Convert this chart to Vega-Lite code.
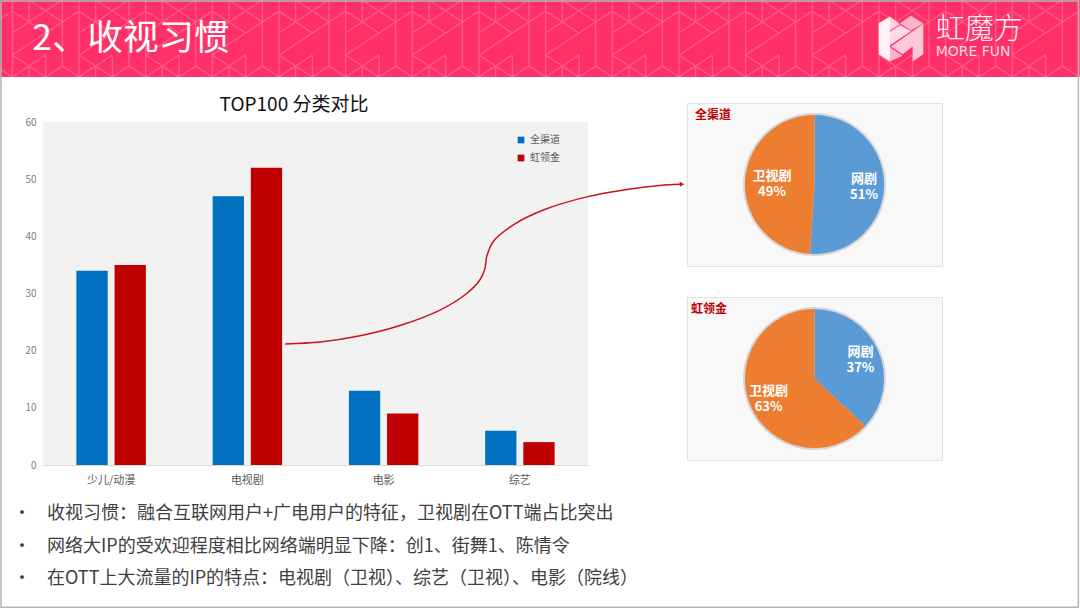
{
  "$schema": "https://vega.github.io/schema/vega-lite/v6.json",
  "padding": 0,
  "background": "white",
  "spacing": 26,
  "bounds": "flush",
  "resolve": {"scale": {"color": "independent", "shape": "independent"}},
  "vconcat": [
    {
      "width": 1080,
      "height": 77,
      "view": {"fill": "#ff3067", "stroke": null},
      "encoding": {
        "x": {"field": "p", "type": "quantitative", "axis": null, "scale": {"domain": [-0.185, 16.015]}}
      },
      "layer": [
        {
          "data": {"values": [{"p": -1}, {"p": 0}, {"p": 1}, {"p": 2}, {"p": 3}, {"p": 4}, {"p": 5}, {"p": 6}, {"p": 7}, {"p": 8}, {"p": 9}, {"p": 10}, {"p": 11}, {"p": 12}, {"p": 13}, {"p": 14}, {"p": 15}, {"p": 16}]},
          "mark": {
            "type": "point",
            "clip": true,
            "filled": false,
            "opacity": 1,
            "size": 4,
            "stroke": "#ff5c8a",
            "strokeWidth": 1.3,
            "shape": "M0 -38.5V38.5M50 -38.5V27.5M16.67 -38.5V-16.5M16.67 27.5V38.5M33.33 16.5V38.5M0 -27.5L33.33 -5.5M0 -5.5L50 -38.5M16.67 -38.5L50 -16.5M0 16.5L66.67 -27.5M0 16.5L33.33 38.5M0 38.5L33.33 16.5M33.33 38.5L50 27.5L66.67 38.5"
          }
        },
        {
          "data": {"values": [{"p": 13.33, "part": "a"}, {"p": 13.33, "part": "b"}, {"p": 13.33, "part": "c"}, {"p": 13.33, "part": "d"}, {"p": 13.33, "part": "e"}, {"p": 13.33, "part": "f"}]},
          "mark": {"type": "point", "filled": true, "opacity": 1, "size": 4},
          "encoding": {
            "shape": {
              "field": "part",
              "type": "nominal",
              "legend": null,
              "scale": {
                "domain": ["a", "b", "c", "d", "e", "f"],
                "range": [
                  "M-22.3 -15.3L-11 -22V23L-22.3 15.7Z",
                  "M-11 -22L-1 -14.3L-11 -7.7Z",
                  "M-1 -15.3L10 -22.7L22.3 -15.3L10 -7.7Z",
                  "M-11 -6.7L-1 -13.3L10 -7.3L-11 6.7Z",
                  "M22.3 -14.7V15.7L11.7 23V8L1.7 15.7L-10 8L10 -6Z",
                  "M-11 9L1.7 17.3L-11 23Z"
                ]
              }
            },
            "color": {
              "field": "part",
              "type": "nominal",
              "legend": null,
              "scale": {
                "domain": ["a", "b", "c", "d", "e", "f"],
                "range": ["#fff2f6", "#ffd3e0", "#ffb3ca", "#ffdbe6", "#ffc8d9", "#ffb3ca"]
              }
            }
          }
        },
        {
          "data": {"values": [{"p": 0.3, "label": "2、收视习惯"}]},
          "mark": {"type": "text", "align": "left", "color": "white", "fontSize": 35.5, "font": "Noto Sans CJK SC", "fontWeight": 400},
          "encoding": {
            "text": {"field": "label", "type": "nominal"}
          }
        },
        {
          "data": {"values": [{"p": 13.85, "label": "虹魔方"}]},
          "mark": {"type": "text", "align": "left", "dy": -9, "color": "#fff0f5", "fontSize": 29, "font": "Noto Sans CJK SC", "fontWeight": 300},
          "encoding": {
            "text": {"field": "label", "type": "nominal"}
          }
        },
        {
          "data": {"values": [{"p": 13.85, "label": "MORE  FUN"}]},
          "mark": {"type": "text", "align": "left", "dy": 13, "color": "#ffdbe6", "fontSize": 14, "font": "DejaVu Sans"},
          "encoding": {
            "text": {"field": "label", "type": "nominal"}
          }
        },
        {
          "data": {"values": [{"p": -0.17, "p2": 15.99, "v": 0.09, "v2": 55.2}]},
          "mark": {"type": "rect", "fill": null, "stroke": "#b4b4b4", "strokeWidth": 1.5},
          "encoding": {
            "x2": {"field": "p2"},
            "y": {"field": "v", "type": "quantitative", "axis": null, "scale": {"domain": [0, 7], "range": [0, 77]}},
            "y2": {"field": "v2"}
          }
        }
      ]
    },
    {
      "spacing": 99,
      "bounds": "flush",
      "resolve": {"scale": {"color": "independent"}},
      "hconcat": [
        {
          "width": 588,
          "height": 362,
          "view": {"stroke": null},
          "title": {"text": "TOP100 分类对比", "fontSize": 19, "fontWeight": "normal", "font": "Noto Sans CJK SC", "color": "#111111", "baseline": "middle", "offset": -21},
          "resolve": {"scale": {"x": "independent"}},
          "layer": [
            {
              "data": {"values": [{"a": 0, "b": 4, "low": 0, "high": 60}]},
              "mark": {"type": "rect", "fill": "#f2f2f2"},
              "encoding": {
                "x": {"field": "a", "type": "quantitative", "axis": null, "scale": {"domain": [0, 4], "range": [43, 588]}},
                "x2": {"field": "b"},
                "y": {"field": "low", "type": "quantitative", "title": null, "scale": {"domain": [0, 60], "range": [362, 19]}, "axis": {"values": [0, 10, 20, 30, 40, 50, 60], "grid": false, "ticks": false, "domain": false, "offset": -36, "labelPadding": 0, "labelColor": "#808080", "labelFontSize": 10, "labelFont": "Noto Sans CJK SC"}},
                "y2": {"field": "high"}
              }
            },
            {
              "data": {"values": [
                {"category": "少儿/动漫", "group": "全渠道", "count": 34},
                {"category": "少儿/动漫", "group": "虹领金", "count": 35},
                {"category": "电视剧", "group": "全渠道", "count": 47},
                {"category": "电视剧", "group": "虹领金", "count": 52},
                {"category": "电影", "group": "全渠道", "count": 13},
                {"category": "电影", "group": "虹领金", "count": 9},
                {"category": "综艺", "group": "全渠道", "count": 6},
                {"category": "综艺", "group": "虹领金", "count": 4}
              ]},
              "mark": "bar",
              "encoding": {
                "x": {"field": "category", "type": "nominal", "title": null, "sort": ["少儿/动漫", "电视剧", "电影", "综艺"], "scale": {"range": [43, 588], "paddingInner": 0.49, "paddingOuter": 0.245}, "axis": {"labelAngle": 0, "ticks": false, "domainColor": "#d9d9d9", "labelColor": "#595959", "labelFontSize": 11, "labelFont": "Noto Sans CJK SC", "labelPadding": 9, "grid": false}},
                "xOffset": {"field": "group", "type": "nominal", "scale": {"paddingInner": 0.18}},
                "y": {"field": "count", "type": "quantitative"},
                "color": {
                  "field": "group",
                  "type": "nominal",
                  "scale": {"domain": ["全渠道", "虹领金"], "range": ["#0070c0", "#c00000"]},
                  "legend": {"title": null, "orient": "none", "legendX": 516, "legendY": 32, "symbolType": "square", "symbolSize": 45, "labelFontSize": 10, "labelColor": "#595959", "labelFont": "Noto Sans CJK SC", "rowPadding": 8}
                }
              }
            },
            {
              "data": {"values": [
                {"cx": 1.776, "level": 21.16},
                {"cx": 2.033, "level": 21.5},
                {"cx": 2.327, "level": 22.6},
                {"cx": 2.62, "level": 24.4},
                {"cx": 2.914, "level": 27.1},
                {"cx": 3.11, "level": 30.0},
                {"cx": 3.207, "level": 32.4},
                {"cx": 3.244, "level": 34.4},
                {"cx": 3.256, "level": 36.4},
                {"cx": 3.305, "level": 39.1},
                {"cx": 3.452, "level": 42.0},
                {"cx": 3.672, "level": 44.6},
                {"cx": 3.99, "level": 46.9},
                {"cx": 4.284, "level": 48.2},
                {"cx": 4.528, "level": 48.9},
                {"cx": 4.675, "level": 49.1}
              ]},
              "mark": {"type": "line", "color": "#c8141c", "strokeWidth": 1.5, "interpolate": "catmull-rom"},
              "encoding": {
                "x": {"field": "cx", "type": "quantitative", "axis": null, "scale": {"domain": [0, 4], "range": [43, 588]}},
                "y": {"field": "level", "type": "quantitative"}
              }
            },
            {
              "data": {"values": [{"cx": 4.69, "level": 49.1}]},
              "mark": {"type": "point", "shape": "triangle-right", "filled": true, "opacity": 1, "color": "#c8141c", "size": 26},
              "encoding": {
                "x": {"field": "cx", "type": "quantitative", "axis": null, "scale": {"domain": [0, 4], "range": [43, 588]}},
                "y": {"field": "level", "type": "quantitative"}
              }
            }
          ]
        },
        {
          "spacing": 31,
          "bounds": "flush",
          "resolve": {"scale": {"color": "independent"}},
          "vconcat": [
            {
              "width": 255,
              "height": 163,
              "view": {"fill": "#f8f8f8", "stroke": "#e2e2e2"},
              "title": {"text": "全渠道", "anchor": "start", "dx": 8, "offset": -24, "baseline": "middle", "fontSize": 12, "fontWeight": "bold", "font": "Noto Sans CJK SC", "color": "#c00000"},
              "data": {"values": [
                {"kind": "网剧", "share": 51, "idx": 1, "label": "网剧\n51%"},
                {"kind": "卫视剧", "share": 49, "idx": 2, "label": "卫视剧\n49%"}
              ]},
              "encoding": {
                "theta": {"field": "share", "type": "quantitative", "stack": true},
                "order": {"field": "idx", "type": "quantitative"}
              },
              "layer": [
                {
                  "mark": {"type": "arc", "outerRadius": 71.5, "color": "#888888", "opacity": 0.3}
                },
                {
                  "mark": {"type": "arc", "outerRadius": 69.5},
                  "encoding": {
                    "color": {"field": "kind", "type": "nominal", "legend": null, "scale": {"domain": ["网剧", "卫视剧"], "range": ["#5b9bd5", "#ed7d31"]}}
                  }
                },
                {
                  "mark": {"type": "text", "radius": 46, "dx": 3.5, "dy": -7, "lineBreak": "\n", "lineHeight": 16, "color": "white", "fontSize": 13, "fontWeight": "bold", "font": "Noto Sans CJK SC"},
                  "encoding": {"text": {"field": "label", "type": "nominal"}}
                }
              ]
            },
            {
              "width": 255,
              "height": 163,
              "view": {"fill": "#f8f8f8", "stroke": "#e2e2e2"},
              "title": {"text": "虹领金", "anchor": "start", "dx": 4, "offset": -24, "baseline": "middle", "fontSize": 12, "fontWeight": "bold", "font": "Noto Sans CJK SC", "color": "#c00000"},
              "data": {"values": [
                {"kind": "网剧", "share": 37, "idx": 1, "label": "网剧\n37%"},
                {"kind": "卫视剧", "share": 63, "idx": 2, "label": "卫视剧\n63%"}
              ]},
              "encoding": {
                "theta": {"field": "share", "type": "quantitative", "stack": true},
                "order": {"field": "idx", "type": "quantitative"}
              },
              "layer": [
                {
                  "mark": {"type": "arc", "outerRadius": 71.5, "color": "#888888", "opacity": 0.3}
                },
                {
                  "mark": {"type": "arc", "outerRadius": 69.5},
                  "encoding": {
                    "color": {"field": "kind", "type": "nominal", "legend": null, "scale": {"domain": ["网剧", "卫视剧"], "range": ["#5b9bd5", "#ed7d31"]}}
                  }
                },
                {
                  "mark": {"type": "text", "radius": 50, "dy": -7, "lineBreak": "\n", "lineHeight": 16, "color": "white", "fontSize": 13, "fontWeight": "bold", "font": "Noto Sans CJK SC"},
                  "encoding": {"text": {"field": "label", "type": "nominal"}}
                }
              ]
            }
          ]
        }
      ]
    },
    {
      "width": 1080,
      "height": 479,
      "view": {"stroke": null},
      "data": {"values": [
        {"line": 1, "col": "dot", "txt": "•"},
        {"line": 1, "col": "body", "txt": "收视习惯：融合互联网用户+广电用户的特征，卫视剧在OTT端占比突出"},
        {"line": 2, "col": "dot", "txt": "•"},
        {"line": 2, "col": "body", "txt": "网络大IP的受欢迎程度相比网络端明显下降：创1、街舞1、陈情令"},
        {"line": 3, "col": "dot", "txt": "•"},
        {"line": 3, "col": "body", "txt": "在OTT上大流量的IP的特点：电视剧（卫视）、综艺（卫视）、电影（院线）"}
      ]},
      "mark": {"type": "text", "align": "left", "fontSize": 18, "color": "#404040", "font": "Noto Sans CJK SC"},
      "encoding": {
        "x": {"field": "col", "type": "nominal", "axis": null, "scale": {"type": "point", "padding": 0, "domain": ["dot", "body"], "range": [13, 47]}},
        "y": {"field": "line", "type": "ordinal", "axis": null, "scale": {"type": "point", "padding": 0, "domain": [1, 2, 3], "range": [385, 450]}},
        "text": {"field": "txt", "type": "nominal"}
      }
    }
  ],
  "config": {"view": {"stroke": null}, "font": "Noto Sans CJK SC"}
}
